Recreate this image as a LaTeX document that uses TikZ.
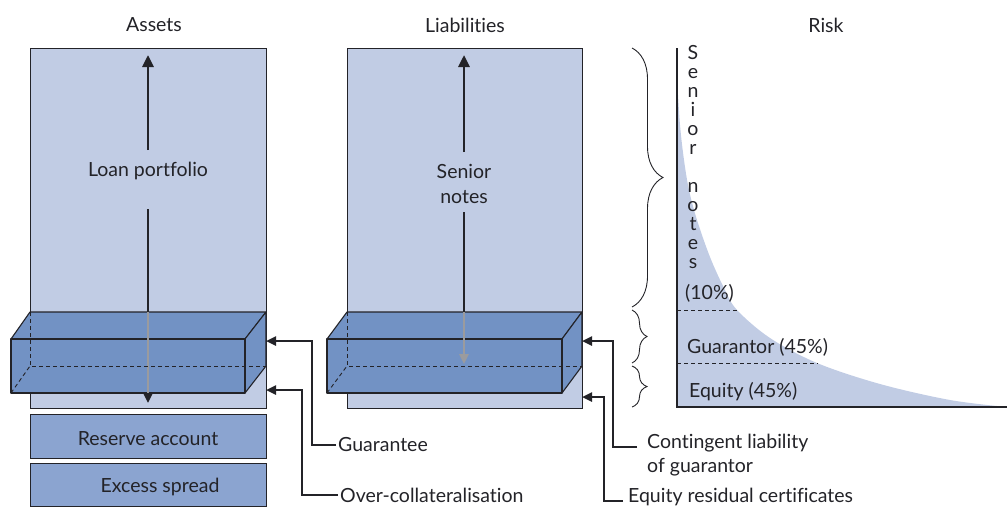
\documentclass[tikz,border=0pt]{standalone}
\usepackage{fontspec}
\setmainfont{Lato}[Ligatures=NoCommon]
\usetikzlibrary{arrows.meta,decorations.pathreplacing}
\definecolor{panel}{RGB}{193,204,228}
\definecolor{slab}{RGB}{114,146,196}
\definecolor{pad}{RGB}{139,164,208}
\definecolor{ink}{RGB}{35,35,40}
\definecolor{ghost}{RGB}{155,155,158}
\tikzset{
  lbl/.style={font=\fontsize{19.5}{23}\selectfont, text=ink, inner sep=0pt},
  frame/.style={draw=ink, line width=0.9pt},
  edge3d/.style={draw=ink, line width=1.1pt, line join=round},
  hidden/.style={draw=ink, line width=0.9pt, dash pattern=on 4pt off 3pt},
  bigarrow/.style={draw=ink, line width=2.8pt, -{Triangle[length=12pt,width=11pt]}},
  conn/.style={draw=ink, line width=2.4pt, -{Triangle[length=10pt,width=9pt]}},
  bracket/.style={draw=ink, line width=0.9pt, decorate},
}
\begin{document}
\begin{tikzpicture}[x=1pt,y=-1pt]
\useasboundingbox (0,0) rectangle (1007,507);

% column titles
\node[lbl] (tA) at (154,25) {Assets};
\node[lbl] (tL) at (465,25) {Liabilities};
\node[lbl] (tR) at (826,25) {Risk};

% ---------- Assets column ----------
\path[fill=panel, frame] (30,48) rectangle (266,408);
\coordinate (aTop) at (148,55);
\coordinate (aBot) at (148,403);
\node[lbl] (loan) at (148,171) {Loan portfolio};
\draw[bigarrow] (148,150) -- (aTop);
\draw[bigarrow] (148,209) -- (aBot);
% credit-enhancement slab
\path[fill=slab, edge3d] (11,339) -- (30,312) -- (266,312) -- (245,339) -- cycle;
\path[fill=slab, edge3d] (245,339) -- (266,312) -- (266,366) -- (245,393) -- cycle;
\path[fill=slab, edge3d] (11,339) rectangle (245,393);
\draw[ghost, line width=2.4pt] (148,312) -- (148,392.5);
\draw[hidden] (30,312) -- (30,366) -- (266,366);
\draw[hidden] (11,393) -- (30,366);
% reserve pads
\node[draw=ink, line width=0.9pt, fill=pad, minimum width=236pt, minimum height=44pt, inner sep=0pt] (res) at (148,436) {};
\node[lbl] (resT) at (148,439) {Reserve account};
\node[draw=ink, line width=0.9pt, fill=pad, minimum width=236pt, minimum height=43pt, inner sep=0pt] (exc) at (148,484.5) {};
\node[lbl] (excT) at (160,487) {Excess spread};

% ---------- Liabilities column ----------
\path[fill=panel, frame] (347,48) rectangle (582,408);
\coordinate (lTop) at (464,55);
\node[lbl, align=center, font=\fontsize{19.5}{25}\selectfont] (senior) at (464,184) {Senior\\notes};
\draw[bigarrow] (464,152) -- (lTop);
\draw[ink, line width=2.8pt] (464,212) -- (464,313);
\path[fill=slab, edge3d] (327,339) -- (347,312) -- (582,312) -- (562,339) -- cycle;
\path[fill=slab, edge3d] (562,339) -- (582,312) -- (582,366) -- (562,393) -- cycle;
\path[fill=slab, edge3d] (327,339) rectangle (562,393);
\coordinate (lDown) at (464,364);
\draw[ghost, line width=2.4pt, -{Triangle[length=10pt,width=9pt]}] (464,312) -- (lDown);
\draw[hidden] (347,312) -- (347,366) -- (582,366);
\draw[hidden] (327,393) -- (347,366);

% ---------- callouts ----------
\coordinate (gTip) at (266,341);
\coordinate (oTip) at (266,390);
\coordinate (cTip) at (582,341);
\coordinate (eTip) at (582,397);
\node[lbl, anchor=west] (guar) at (338,445) {Guarantee};
\node[lbl, anchor=west] (over) at (340,495) {Over-collateralisation};
\node[lbl, anchor=west, align=left, font=\fontsize{19.5}{24}\selectfont] (cont) at (647,455) {Contingent liability\\of guarantor};
\node[lbl, anchor=west] (eqr) at (628,497) {Equity residual certificates};
\draw[conn] (cont.west) ++(-10,-8) -- (613,447) |- (cTip);
\draw[conn] (guar.west) ++(-2,0) -- (312,445) |- (gTip);
\draw[conn] (over.west) ++(-2,0) -- (302,495) |- (oTip);
\draw[conn] (eqr.west) ++(-5,4) -- (604,501) |- (eTip);

% ---------- Risk profile ----------
\fill[panel] (677,407) -- plot[smooth, tension=0.55] coordinates {(677,78) (680,125) (684,160) (689,190) (697,220) (710,257) (724,288) (737,310) (770,338) (817,363) (880,384) (950,400) (1007,407)} -- cycle;
\draw[ink, line width=1.4pt] (677,48) -- (677,407) -- (1007,407);
\draw[hidden] (677,310) -- (737,310);
\draw[hidden] (677,363) -- (818,363);
\node[lbl, align=center, anchor=north, font=\fontsize{19.5}{19}\selectfont] (stack) at (693,45) {S\\e\\n\\i\\o\\r\\[19pt]n\\o\\t\\e\\s};
\node[lbl, anchor=west] (p10) at (685,293) {(10\%)};
\node[lbl, anchor=west] (p45g) at (687,347) {Guarantor (45\%)};
\node[lbl, anchor=west] (p45e) at (689,392) {Equity (45\%)};

% tranche braces
\coordinate (b1s) at (632,48);  \coordinate (b1e) at (632,307);
\coordinate (b2s) at (632,310); \coordinate (b2e) at (632,363);
\coordinate (b3s) at (632,366); \coordinate (b3e) at (632,407);
\draw[bracket, decoration={brace, amplitude=31pt}] (b1s) -- (b1e);
\draw[bracket, decoration={brace, amplitude=15pt}] (b2s) -- (b2e);
\draw[bracket, decoration={brace, amplitude=15pt}] (b3s) -- (b3e);
\end{tikzpicture}
\end{document}
